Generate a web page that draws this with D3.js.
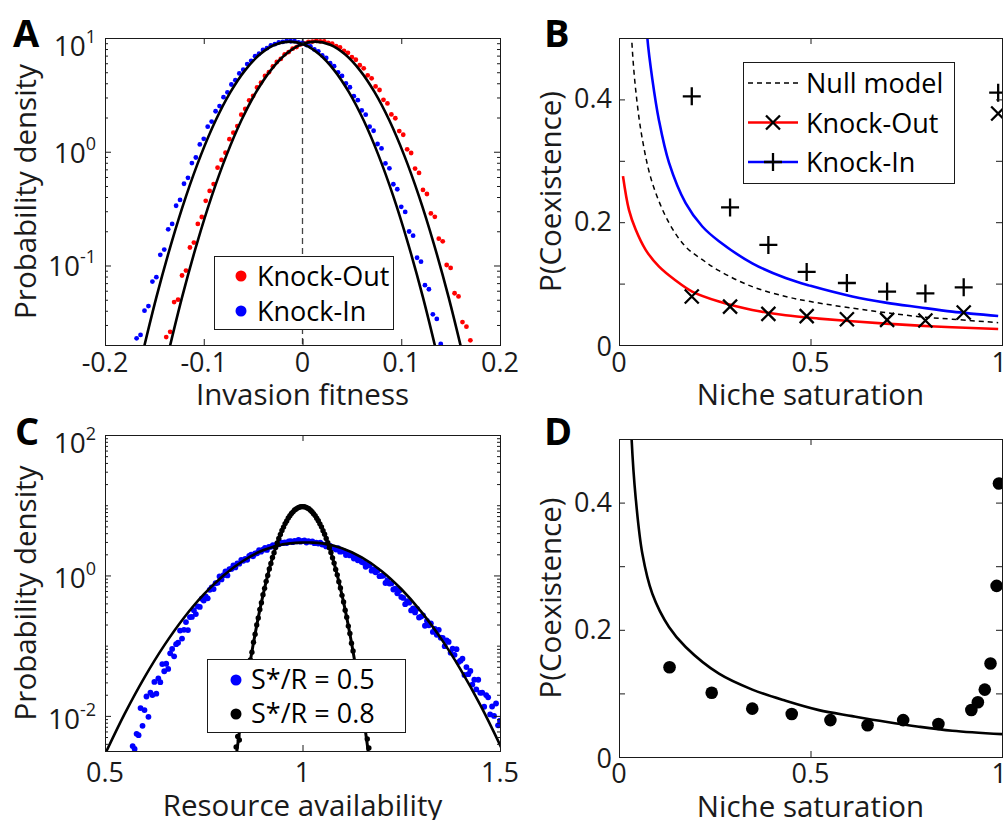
<!DOCTYPE html>
<html>
<head>
<meta charset="utf-8">
<script src="https://cdn.jsdelivr.net/npm/d3@7"></script>
<style>
  html, body { margin: 0; padding: 0; background: #fff; }
  svg { display: block; font-family: "Open Sans", sans-serif; }
</style>
</head>
<body>
<svg id="fig" width="1008" height="820"></svg>
<script>
// ---------------- Panel A: invasion fitness distributions ----------------
const fitnessTicks = [-0.2, -0.1, 0, 0.1, 0.2];
const densityLabelsA = [0.1, 1, 10];
const seriesNamesA = ["Knock-Out", "Knock-In"];

const knockOutDensity = [
  [-0.138,0.0235],[-0.134,0.0261],[-0.130,0.0477],[-0.126,0.0501],[-0.122,0.0817],[-0.118,0.0902],
  [-0.114,0.144],[-0.110,0.159],[-0.106,0.232],[-0.102,0.267],[-0.098,0.370],[-0.094,0.452],
  [-0.090,0.520],[-0.086,0.724],[-0.082,0.847],[-0.078,0.980],[-0.074,1.29],[-0.070,1.47],
  [-0.066,1.68],[-0.062,2.12],[-0.058,2.38],[-0.054,2.83],[-0.050,3.10],[-0.046,3.67],
  [-0.042,4.06],[-0.038,4.64],[-0.034,5.01],[-0.030,5.63],[-0.026,6.15],[-0.022,6.55],
  [-0.018,7.18],[-0.014,7.52],[-0.010,8.06],[-0.006,8.33],[-0.002,8.78],[0.002,8.95],
  [0.006,9.26],[0.010,9.31],[0.014,9.42],[0.018,9.35],[0.022,9.33],[0.026,9.05],
  [0.030,8.93],[0.034,8.50],[0.038,8.27],[0.042,7.72],[0.046,7.40],[0.050,6.78],
  [0.054,6.44],[0.058,5.76],[0.062,5.41],[0.066,4.70],[0.070,4.42],[0.074,3.75],
  [0.078,3.49],[0.082,2.86],[0.086,2.66],[0.090,2.13],[0.094,1.97],[0.098,1.52],
  [0.102,1.41],[0.106,1.05],[0.110,0.975],[0.114,0.712],[0.118,0.652],[0.122,0.462],
  [0.126,0.425],[0.130,0.287],[0.134,0.268],[0.138,0.172],[0.142,0.163],[0.146,0.101],
  [0.150,0.0952],[0.154,0.0570],[0.158,0.0535],[0.162,0.0318],[0.166,0.0290],[0.170,0.0220]
];
const knockInDensity = [
  [-0.168,0.0229],[-0.164,0.0245],[-0.160,0.0401],[-0.156,0.0440],[-0.152,0.0722],[-0.148,0.0790],
  [-0.144,0.124],[-0.140,0.138],[-0.136,0.208],[-0.132,0.232],[-0.128,0.335],[-0.124,0.377],
  [-0.120,0.523],[-0.116,0.590],[-0.112,0.795],[-0.108,0.890],[-0.104,1.16],[-0.100,1.30],
  [-0.096,1.66],[-0.092,1.84],[-0.088,2.27],[-0.084,2.52],[-0.080,3.02],[-0.076,3.33],
  [-0.072,3.90],[-0.068,4.25],[-0.064,4.88],[-0.060,5.27],[-0.056,5.90],[-0.052,6.30],
  [-0.048,6.91],[-0.044,7.28],[-0.040,7.85],[-0.036,8.14],[-0.032,8.62],[-0.028,8.82],
  [-0.024,9.16],[-0.020,9.24],[-0.016,9.43],[-0.012,9.36],[-0.008,9.38],[-0.004,9.15],
  [0.000,9.04],[0.004,8.66],[0.008,8.45],[0.012,7.94],[0.016,7.63],[0.020,7.03],
  [0.024,6.67],[0.028,6.01],[0.032,5.65],[0.036,4.98],[0.040,4.64],[0.044,3.98],
  [0.048,3.69],[0.052,3.08],[0.056,2.84],[0.060,2.31],[0.064,2.12],[0.068,1.66],
  [0.072,1.53],[0.076,1.17],[0.080,1.07],[0.084,0.790],[0.088,0.715],[0.092,0.518],
  [0.096,0.468],[0.100,0.328],[0.104,0.296],[0.108,0.199],[0.112,0.183],[0.116,0.117],
  [0.120,0.108],[0.124,0.0672],[0.128,0.0618],[0.132,0.0372],[0.136,0.0339],[0.140,0.0205]
];
const knockOutFit = [
  [-0.137,0.0155],[-0.122,0.0524],[-0.107,0.155],[-0.092,0.405],[-0.077,0.929],[-0.062,1.88],
  [-0.047,3.34],[-0.032,5.22],[-0.017,7.19],[-0.002,8.71],[0.013,9.29],[0.028,8.71],
  [0.043,7.19],[0.058,5.22],[0.073,3.34],[0.088,1.88],[0.103,0.929],[0.118,0.405],
  [0.133,0.155],[0.148,0.0524],[0.163,0.0155]
];
const knockInFit = [
  [-0.163,0.0155],[-0.148,0.0524],[-0.133,0.155],[-0.118,0.405],[-0.103,0.929],[-0.088,1.88],
  [-0.073,3.34],[-0.058,5.22],[-0.043,7.19],[-0.028,8.71],[-0.013,9.29],[0.002,8.71],
  [0.017,7.19],[0.032,5.22],[0.047,3.34],[0.062,1.88],[0.077,0.929],[0.092,0.405],
  [0.107,0.155],[0.122,0.0524],[0.137,0.0155]
];

// ---------------- Panel B: coexistence vs niche saturation ----------------
const saturationTicks = [0, 0.5, 1];
const coexTicks = [0, 0.1, 0.2, 0.3, 0.4, 0.5];
const coexTickLabels = [0, 0.2, 0.4];
const seriesNamesB = ["Null model", "Knock-Out", "Knock-In"];

const nullModelB = [
  [0.029,0.58],[0.033,0.50],[0.0435,0.416],[0.061,0.335],[0.087,0.264],[0.1305,0.199],
  [0.174,0.160],[0.2176,0.139],[0.261,0.121],[0.348,0.095],[0.435,0.079],[0.50,0.0707],
  [0.609,0.060],[0.696,0.0528],[0.783,0.0462],[0.870,0.042],[0.99,0.0364]
];
const knockOutModelB = [
  [0.0104,0.275],[0.026,0.220],[0.0435,0.188],[0.0696,0.155],[0.104,0.128],[0.148,0.105],
  [0.191,0.087],[0.261,0.0708],[0.348,0.0571],[0.435,0.0484],[0.522,0.043],[0.609,0.0386],
  [0.696,0.0348],[0.783,0.0316],[0.870,0.0288],[0.99,0.0261]
];
const knockInModelB = [
  [0.068,0.57],[0.074,0.50],[0.087,0.433],[0.104,0.367],[0.1305,0.297],[0.174,0.231],
  [0.2176,0.193],[0.261,0.169],[0.348,0.133],[0.435,0.109],[0.50,0.0963],[0.609,0.079],
  [0.696,0.069],[0.783,0.0615],[0.870,0.0544],[0.99,0.0473]
];
const knockOutSimB = [
  [0.19,0.079],[0.29,0.0626],[0.39,0.0506],[0.49,0.047],[0.595,0.042],
  [0.70,0.041],[0.80,0.040],[0.90,0.053],[0.99,0.377]
];
const knockInSimB = [
  [0.19,0.405],[0.29,0.224],[0.39,0.163],[0.49,0.119],[0.595,0.101],
  [0.70,0.087],[0.80,0.084],[0.90,0.094],[0.99,0.411]
];

// ---------------- Panel C: resource availability distributions ----------------
const resourceTicks = [0.5, 1, 1.5];
const densityLabelsC = [0.01, 1, 100];
const seriesNamesC = ["S*/R = 0.5", "S*/R = 0.8"];

const halfSatDensity = [
  [0.570,0.00372],[0.575,0.00339],[0.580,0.00556],[0.585,0.00531],[0.590,0.0129],[0.595,0.00723],
  [0.600,0.0121],[0.605,0.0189],[0.610,0.0097],[0.615,0.0214],[0.620,0.0198],[0.625,0.0305],
  [0.630,0.0207],[0.635,0.0341],[0.640,0.0302],[0.645,0.0546],[0.650,0.0432],[0.655,0.0553],
  [0.660,0.0466],[0.665,0.0778],[0.670,0.0899],[0.675,0.0706],[0.680,0.105],[0.685,0.110],
  [0.690,0.164],[0.695,0.126],[0.700,0.168],[0.705,0.217],[0.710,0.167],[0.715,0.255],
  [0.720,0.257],[0.725,0.320],[0.730,0.282],[0.735,0.363],[0.740,0.356],[0.745,0.467],
  [0.750,0.440],[0.755,0.502],[0.760,0.472],[0.765,0.624],[0.770,0.675],[0.775,0.640],
  [0.780,0.774],[0.785,0.785],[0.790,0.966],[0.795,0.877],[0.800,1.01],[0.805,1.14],
  [0.810,1.00],[0.815,1.23],[0.820,1.24],[0.825,1.39],[0.830,1.30],[0.835,1.48],
  [0.840,1.47],[0.845,1.67],[0.850,1.62],[0.855,1.72],[0.860,1.67],[0.865,1.90],
  [0.870,1.98],[0.875,1.87],[0.880,2.06],[0.885,2.07],[0.890,2.29],[0.895,2.18],
  [0.900,2.33],[0.905,2.47],[0.910,2.31],[0.915,2.56],[0.920,2.56],[0.925,2.70],
  [0.930,2.62],[0.935,2.79],[0.940,2.77],[0.945,2.96],[0.950,2.88],[0.955,2.96],
  [0.960,2.89],[0.965,3.06],[0.970,3.09],[0.975,2.98],[0.980,3.11],[0.985,3.05],
  [0.990,3.20],[0.995,3.03],[1.000,3.10],[1.005,3.15],[1.010,2.94],[1.015,3.08],
  [1.020,3.01],[1.025,3.05],[1.030,2.88],[1.035,2.94],[1.040,2.84],[1.045,2.92],
  [1.050,2.76],[1.055,2.75],[1.060,2.59],[1.065,2.68],[1.070,2.63],[1.075,2.43],
  [1.080,2.48],[1.085,2.34],[1.090,2.44],[1.095,2.18],[1.100,2.20],[1.105,2.21],
  [1.110,1.95],[1.115,2.05],[1.120,1.93],[1.125,1.96],[1.130,1.74],[1.135,1.79],
  [1.140,1.64],[1.145,1.73],[1.150,1.55],[1.155,1.52],[1.160,1.33],[1.165,1.44],
  [1.170,1.38],[1.175,1.17],[1.180,1.22],[1.185,1.11],[1.190,1.18],[1.195,0.977],
  [1.200,0.984],[1.205,0.995],[1.210,0.780],[1.215,0.857],[1.220,0.766],[1.225,0.771],
  [1.230,0.631],[1.235,0.649],[1.240,0.557],[1.245,0.607],[1.250,0.495],[1.255,0.478],
  [1.260,0.390],[1.265,0.431],[1.270,0.409],[1.275,0.318],[1.280,0.340],[1.285,0.297],
  [1.290,0.335],[1.295,0.252],[1.300,0.260],[1.305,0.270],[1.310,0.192],[1.315,0.226],
  [1.320,0.195],[1.325,0.208],[1.330,0.157],[1.335,0.173],[1.340,0.143],[1.345,0.168],
  [1.350,0.130],[1.355,0.129],[1.360,0.0984],[1.365,0.119],[1.370,0.113],[1.375,0.0795],
  [1.380,0.0908],[1.385,0.0741],[1.390,0.0891],[1.395,0.0583],[1.400,0.0612],[1.405,0.0652],
  [1.410,0.0383],[1.415,0.0495],[1.420,0.0393],[1.425,0.0436],[1.430,0.0279],[1.435,0.0327],
  [1.440,0.0238],[1.445,0.0327],[1.450,0.0213],[1.455,0.0214],[1.460,0.0135],[1.465,0.0198],
  [1.470,0.0184],[1.475,0.0105],[1.480,0.0136],[1.485,0.0100],[1.490,0.0150],[1.495,0.00735],
  [1.500,0.00853]
];
const highSatDensity = [
  [0.832,0.0036],[0.836,0.0051],[0.840,0.00454],[0.844,0.0094],[0.848,0.0105],[0.852,0.0179],
  [0.856,0.0221],[0.860,0.0340],[0.864,0.0434],[0.868,0.0628],[0.872,0.0808],[0.876,0.112],
  [0.880,0.146],[0.884,0.197],[0.888,0.248],[0.892,0.327],[0.896,0.410],[0.900,0.530],
  [0.904,0.655],[0.908,0.824],[0.912,1.00],[0.916,1.24],[0.920,1.48],[0.924,1.80],
  [0.928,2.11],[0.932,2.50],[0.936,2.90],[0.940,3.37],[0.944,3.84],[0.948,4.38],
  [0.952,4.88],[0.956,5.47],[0.960,5.98],[0.964,6.58],[0.968,7.08],[0.972,7.62],
  [0.976,8.05],[0.980,8.53],[0.984,8.85],[0.988,9.18],[0.992,9.36],[0.996,9.53],
  [1.000,9.54],[1.004,9.49],[1.008,9.40],[1.012,9.14],[1.016,8.89],[1.020,8.49],
  [1.024,8.09],[1.028,7.58],[1.032,7.12],[1.036,6.54],[1.040,6.02],[1.044,5.43],
  [1.048,4.92],[1.052,4.34],[1.056,3.87],[1.060,3.35],[1.064,2.92],[1.068,2.48],
  [1.072,2.13],[1.076,1.78],[1.080,1.50],[1.084,1.22],[1.088,1.02],[1.092,0.812],
  [1.096,0.664],[1.100,0.521],[1.104,0.418],[1.108,0.320],[1.112,0.254],[1.116,0.190],
  [1.120,0.149],[1.124,0.108],[1.128,0.0840],[1.132,0.0598],[1.136,0.0462],[1.140,0.0315],
  [1.144,0.0245],[1.148,0.0158],[1.152,0.0126],[1.156,0.0075],[1.160,0.0063],[1.164,0.0047],
  [1.168,0.0035]
];
const halfSatFit = [
  [0.50,0.00284],[0.55,0.01076],[0.60,0.0354],[0.65,0.101],[0.70,0.250],[0.75,0.537],
  [0.80,1.00],[0.85,1.62],[0.90,2.28],[0.95,2.77],[1.00,2.94],[1.02,2.94],
  [1.05,2.86],[1.10,2.44],[1.15,1.81],[1.20,1.16],[1.25,0.641],[1.30,0.308],
  [1.35,0.128],[1.40,0.046],[1.45,0.01435],[1.50,0.00387],[1.52,0.0022]
];
const highSatFit = [
  [0.83,0.00218],[0.84,0.00568],[0.86,0.0324],[0.88,0.147],[0.90,0.525],[0.92,1.49],
  [0.94,3.36],[0.96,6.00],[0.98,8.51],[1.00,9.55],[1.02,8.51],[1.04,6.00],
  [1.06,3.36],[1.08,1.49],[1.10,0.525],[1.12,0.147],[1.14,0.0324],[1.16,0.00568],
  [1.17,0.00218]
];

// ---------------- Panel D: coexistence, single model ----------------
const saturationSimD = [
  [0.132,0.141],[0.242,0.101],[0.348,0.076],[0.451,0.0675],[0.552,0.058],[0.649,0.050],
  [0.742,0.058],[0.834,0.052],[0.920,0.074],[0.937,0.086],[0.955,0.106],[0.970,0.147],
  [0.986,0.269],[0.992,0.430]
];
const saturationModelD = [
  [0.029,0.58],[0.033,0.499],[0.0435,0.408],[0.061,0.3195],[0.087,0.2567],[0.1305,0.2044],
  [0.174,0.173],[0.261,0.131],[0.348,0.106],[0.435,0.0884],[0.522,0.0737],[0.609,0.0643],
  [0.696,0.0554],[0.783,0.0476],[0.870,0.0413],[1.0,0.036]
];

// ---------------- drawing ----------------
const W = 1008;
const svg = d3.select("#fig");
const INK = "#1a1a1a";
const RED = "#ff0000", BLUE = "#0000ff";
const TICK_FONT = 27, TITLE_FONT = 29.5, LEGEND_FONT = 27;

function panel(id, xs, ys) {
  const [x0, x1] = xs.range(), [yb, yt] = ys.range();
  const g = svg.append("g");
  svg.append("clipPath").attr("id", id)
    .append("rect").attr("x", x0).attr("y", yt).attr("width", x1 - x0).attr("height", yb - yt);
  const plot = g.append("g").attr("clip-path", `url(#${id})`);
  return { g, plot, x0, x1, yb, yt, xs, ys };
}

function ticksAndFrame(p, xVals, yMajor, yMinor) {
  const put = (axis, tr) => p.g.append("g").attr("transform", tr).call(axis)
    .call(s => {
      s.select(".domain").remove();
      s.selectAll("text").remove();
      s.selectAll("line").attr("stroke", INK).attr("stroke-width", 1);
    });
  put(d3.axisBottom(p.xs).tickValues(xVals).tickSize(-6), `translate(0,${p.yb})`);
  put(d3.axisTop(p.xs).tickValues(xVals).tickSize(-6), `translate(0,${p.yt})`);
  put(d3.axisLeft(p.ys).tickValues(yMajor).tickSize(-6), `translate(${p.x0},0)`);
  put(d3.axisRight(p.ys).tickValues(yMajor).tickSize(-6), `translate(${p.x1},0)`);
  if (yMinor) {
    put(d3.axisLeft(p.ys).tickValues(yMinor).tickSize(-3), `translate(${p.x0},0)`);
    put(d3.axisRight(p.ys).tickValues(yMinor).tickSize(-3), `translate(${p.x1},0)`);
  }
  p.g.append("rect")
    .attr("x", p.x0 + 0.5).attr("y", p.yt + 0.5)
    .attr("width", p.x1 - p.x0).attr("height", p.yb - p.yt)
    .attr("fill", "none").attr("stroke", INK).attr("stroke-width", 1);
}

function xLabels(p, vals, dy) {
  const t = p.g.append("g").selectAll("text").data(vals).join("text")
    .attr("x", d => p.xs(d)).attr("y", p.yb + dy)
    .attr("text-anchor", "middle").attr("font-size", TICK_FONT).attr("fill", INK)
    .text(d => String(d));
  // keep a label that sits on the figure's right edge inside the canvas
  t.each(function () {
    const b = this.getBBox();
    if (b.x + b.width > W - 1) d3.select(this).attr("x", +this.getAttribute("x") - (b.x + b.width - (W - 1)));
  });
}

function yLabelsLinear(p, vals) {
  p.g.append("g").selectAll("text").data(vals).join("text")
    .attr("x", p.x0 - 7).attr("y", d => p.ys(d) + (d === 0 ? 11 : 9))
    .attr("text-anchor", "end").attr("font-size", TICK_FONT).attr("fill", INK)
    .text(d => String(d));
}

function yLabelsLog(p, vals, dy) {
  const t = p.g.append("g").selectAll("text").data(vals).join("text")
    .attr("x", p.x0 - 9)
    .attr("y", d => Math.max(p.ys(d) + dy, p.yt + 18))
    .attr("text-anchor", "end").attr("font-size", 28).attr("fill", INK);
  t.append("tspan").text("10");
  t.append("tspan").attr("dy", -13).attr("font-size", 18)
    .text(d => String(Math.round(Math.log10(d))));
}

function titles(p, xTitle, xTitleY, yTitle, yTitleX) {
  p.g.append("text")
    .attr("x", (p.x0 + p.x1) / 2).attr("y", xTitleY)
    .attr("text-anchor", "middle").attr("font-size", TITLE_FONT).attr("fill", INK)
    .text(xTitle);
  p.g.append("text")
    .attr("transform", `translate(${yTitleX},${(p.yt + p.yb) / 2}) rotate(-90)`)
    .attr("text-anchor", "middle").attr("font-size", TITLE_FONT).attr("fill", INK)
    .text(yTitle);
}

function letter(txt, x, y) {
  svg.append("text").attr("x", x).attr("y", y)
    .attr("font-size", 38).attr("font-weight", 700).attr("fill", "#000")
    .text(txt);
}

const smooth = (xs, ys) => d3.line()
  .x(d => xs(d[0])).y(d => ys(d[1]))
  .curve(d3.curveCatmullRom.alpha(0.5));

function dots(p, data, r, color) {
  p.plot.append("g").selectAll("circle").data(data).join("circle")
    .attr("cx", d => p.xs(d[0])).attr("cy", d => p.ys(d[1]))
    .attr("r", r).attr("fill", color);
}

function curve(p, data, color, width, dash) {
  p.plot.append("path").datum(data)
    .attr("d", smooth(p.xs, p.ys))
    .attr("fill", "none").attr("stroke", color).attr("stroke-width", width)
    .attr("stroke-dasharray", dash || null);
}

const plusPath = "M-9,0H9M0,-9V9";
const crossPath = "M-7,-7L7,7M-7,7L7,-7";

function markers(p, data, path) {
  p.plot.append("g").selectAll("path").data(data).join("path")
    .attr("transform", d => `translate(${p.xs(d[0])},${p.ys(d[1])})`)
    .attr("d", path).attr("fill", "none").attr("stroke", "#000").attr("stroke-width", 2.3);
}

function minorLog(ys, labelled) {
  return ys.ticks().filter(v => !labelled.some(l => Math.abs(l - v) / l < 1e-9));
}

// ---- Panel A ----
{
  const xs = d3.scaleLinear([-0.2, 0.2], [105, 500]);
  const ys = d3.scaleLog([0.02, 10], [345, 38]);
  const p = panel("clipA", xs, ys);
  p.plot.append("line")
    .attr("x1", xs(0)).attr("x2", xs(0)).attr("y1", p.yt).attr("y2", p.yb)
    .attr("stroke", "#444").attr("stroke-width", 1.3).attr("stroke-dasharray", "6,4");
  dots(p, knockOutDensity, 2.4, RED);
  dots(p, knockInDensity, 2.4, BLUE);
  curve(p, knockOutFit, "#000", 2.6);
  curve(p, knockInFit, "#000", 2.6);
  ticksAndFrame(p, fitnessTicks, densityLabelsA, minorLog(ys, densityLabelsA));
  xLabels(p, fitnessTicks, 27);
  yLabelsLog(p, densityLabelsA, 11);
  titles(p, "Invasion fitness", 405, "Probability density", 36);

  const lg = p.g.append("g");
  lg.append("rect").attr("x", 214.5).attr("y", 256.5).attr("width", 179).attr("height", 73)
    .attr("fill", "#fff").attr("stroke", INK).attr("stroke-width", 1);
  const colors = [RED, BLUE];
  seriesNamesA.forEach((name, i) => {
    lg.append("circle").attr("cx", 241).attr("cy", 276 + i * 35).attr("r", 5.5).attr("fill", colors[i]);
    lg.append("text").attr("x", 257).attr("y", 286 + i * 35)
      .attr("font-size", LEGEND_FONT).attr("fill", "#000").text(name);
  });
}

// ---- Panel B ----
{
  const xs = d3.scaleLinear([0, 1], [619, 1002]);
  const ys = d3.scaleLinear([0, 0.5], [345, 38]);
  const p = panel("clipB", xs, ys);
  curve(p, nullModelB, "#000", 1.5, "5,4");
  curve(p, knockOutModelB, RED, 2.6);
  curve(p, knockInModelB, BLUE, 2.6);
  markers(p, knockOutSimB, crossPath);
  markers(p, knockInSimB, plusPath);
  ticksAndFrame(p, saturationTicks, coexTicks, null);
  xLabels(p, saturationTicks, 27);
  yLabelsLinear(p, coexTickLabels);
  titles(p, "Niche saturation", 405, "P(Coexistence)", 561);

  const lg = p.g.append("g");
  lg.append("rect").attr("x", 743.5).attr("y", 62.5).attr("width", 211).attr("height", 121)
    .attr("fill", "#fff").attr("stroke", INK).attr("stroke-width", 1);
  const styles = [
    { color: "#000", width: 1.5, dash: "5,4", mark: null },
    { color: RED, width: 2.6, dash: null, mark: crossPath },
    { color: BLUE, width: 2.6, dash: null, mark: plusPath }
  ];
  seriesNamesB.forEach((name, i) => {
    const yy = 83 + i * 39.5;
    const s = styles[i];
    lg.append("line").attr("x1", 748).attr("x2", 798).attr("y1", yy).attr("y2", yy)
      .attr("stroke", s.color).attr("stroke-width", s.width).attr("stroke-dasharray", s.dash);
    if (s.mark) {
      lg.append("path").attr("transform", `translate(773,${yy})`).attr("d", s.mark)
        .attr("fill", "none").attr("stroke", "#000").attr("stroke-width", 2.3);
    }
    lg.append("text").attr("x", 806).attr("y", yy + 10)
      .attr("font-size", LEGEND_FONT).attr("fill", "#000").text(name);
  });
}

// ---- Panel C ----
{
  const xs = d3.scaleLinear([0.5, 1.5], [105, 500]);
  const ys = d3.scaleLog([Math.pow(10, -2.5), 100], [751, 435]);
  const p = panel("clipC", xs, ys);
  dots(p, halfSatDensity, 2.9, BLUE);
  dots(p, highSatDensity, 2.7, "#000");
  curve(p, halfSatFit, "#000", 2.6);
  curve(p, highSatFit, "#000", 3);
  ticksAndFrame(p, resourceTicks, densityLabelsC, minorLog(ys, densityLabelsC));
  xLabels(p, resourceTicks, 31);
  yLabelsLog(p, densityLabelsC, 13);
  titles(p, "Resource availability", 816, "Probability density", 36);

  const lg = p.g.append("g");
  lg.append("rect").attr("x", 207.5).attr("y", 659.5).attr("width", 198).attr("height", 73)
    .attr("fill", "#fff").attr("stroke", INK).attr("stroke-width", 1);
  const colors = [BLUE, "#000"];
  seriesNamesC.forEach((name, i) => {
    lg.append("circle").attr("cx", 236).attr("cy", 680 + i * 34).attr("r", 5.5).attr("fill", colors[i]);
    lg.append("text").attr("x", 251).attr("y", 689 + i * 34)
      .attr("font-size", LEGEND_FONT).attr("fill", "#000").text(name);
  });
}

// ---- Panel D ----
{
  const xs = d3.scaleLinear([0, 1], [619, 1002]);
  const ys = d3.scaleLinear([0, 0.5], [757, 439]);
  const p = panel("clipD", xs, ys);
  curve(p, saturationModelD, "#000", 2.6);
  dots(p, saturationSimD, 6.3, "#000");
  ticksAndFrame(p, saturationTicks, coexTicks, null);
  xLabels(p, saturationTicks, 26);
  yLabelsLinear(p, coexTickLabels);
  titles(p, "Niche saturation", 817, "P(Coexistence)", 561);
}

letter("A", 13, 47);
letter("B", 544, 47);
letter("C", 15, 445);
letter("D", 544, 445);
</script>
</body>
</html>
